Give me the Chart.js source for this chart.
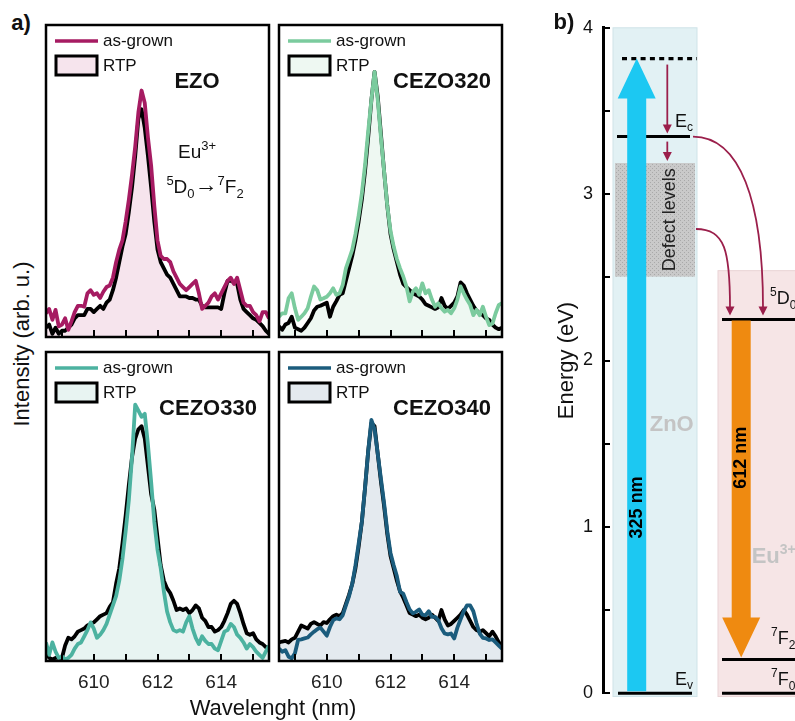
<!DOCTYPE html>
<html>
<head>
<meta charset="utf-8">
<script src="https://cdn.jsdelivr.net/npm/chart.js@4.4.0/dist/chart.umd.min.js"></script>
<style>
  body { margin: 0; background: #fff; }
  #fig { position: relative; width: 795px; height: 721px; overflow: hidden; font-family: Arial, "Liberation Sans", sans-serif; color: #111; }
  #fig canvas { position: absolute; }
  .txt { position: absolute; white-space: nowrap; transform: translate(-50%, -50%); }
</style>
</head>
<body>
<div id="fig">
  <canvas id="pEZO"></canvas>
  <canvas id="pC320"></canvas>
  <canvas id="pC330"></canvas>
  <canvas id="pC340"></canvas>
  <canvas id="diagram" width="255" height="721" style="left:540px;top:0"></canvas>
  <div class="txt" style="left:21px;top:23px;font-size:22px;font-weight:bold">a)</div>
  <div class="txt" style="left:564px;top:22px;font-size:22px;font-weight:bold">b)</div>
  <div class="txt" style="left:22px;top:344px;font-size:22px;transform:translate(-50%,-50%) rotate(-90deg)">Intensity (arb. u.)</div>
  <div class="txt" style="left:273px;top:708px;font-size:22px">Wavelenght (nm)</div>
</div>
<script>
const FONT = 'Arial, "Liberation Sans", sans-serif';

// ---- panel a: spectra (0 = frame bottom, 100 = frame top)
const wavelengths = [608.5, 608.6, 608.7, 608.8, 608.9, 609.0, 609.1, 609.2, 609.3, 609.4, 609.5, 609.6, 609.7, 609.8, 609.9,
  610.0, 610.1, 610.2, 610.3, 610.4, 610.5, 610.6, 610.7, 610.8, 610.9,
  611.0, 611.1, 611.2, 611.3, 611.4, 611.5, 611.6, 611.7, 611.8, 611.9,
  612.0, 612.1, 612.2, 612.3, 612.4, 612.5, 612.6, 612.7, 612.8, 612.9,
  613.0, 613.1, 613.2, 613.3, 613.4, 613.5, 613.6, 613.7, 613.8, 613.9,
  614.0, 614.1, 614.2, 614.3, 614.4, 614.5, 614.6, 614.7, 614.8, 614.9,
  615.0, 615.1, 615.2, 615.3, 615.4, 615.5];
const xTickValues = [609, 610, 611, 612, 613, 614, 615];
const xTickLabels = [610, 612, 614];
const samples = ['EZO', 'CEZO320', 'CEZO330', 'CEZO340'];

const ezoAsGrown = [7.6, 9, 5.5, 8.7, 3.4, 4, 6, 2.3, 5, 8, 10, 10, 9.7, 14, 15,
  13.5, 14, 12.5, 14.5, 16, 16.5, 19, 24, 28, 31,
  37, 44, 52, 61, 72, 79, 75, 64, 55, 42,
  31, 26, 25, 25, 24, 21, 19, 17, 16, 15,
  16, 17, 18, 14, 9, 10, 11, 13, 14, 12,
  14, 16, 18, 19, 17, 19, 15, 11, 10, 10,
  8, 7, 5, 8, 8, 6];
const ezoRtp = [3, 4, 1, 3, 1, 2, 2, 3, 4, 6, 7, 7, 7, 9, 9,
  8, 9, 10, 9, 11, 12, 15, 19, 24, 29,
  33, 40, 48, 58, 70, 73, 67, 58, 48, 37,
  28, 24, 22, 20, 19, 17, 15, 13, 13, 13,
  12.5, 12.5, 12, 12, 10, 9.5, 9.5, 9.5, 9.5, 9.5,
  9, 14, 18, 18, 17.5, 17, 12, 9, 8, 7,
  6, 5.5, 4.5, 3.5, 2, 1];

const c320AsGrown = [6.5, 7.6, 7.6, 12.4, 14, 9.2, 5.5, 6.5, 7.6, 9.2, 12.9, 16.2, 15, 12, 12.4,
  12.9, 14, 15.6, 13.5, 14, 16.7, 22, 25, 28, 33,
  39, 46, 55, 66, 76, 85, 76, 64, 53, 42,
  34, 29, 25, 22, 19.4, 16.2, 11.4, 14.5, 15.6, 13.5,
  17.2, 14, 15, 12, 9.7, 10.8, 9.2, 8.1, 8.7, 7.6,
  9.2, 12, 16.2, 14, 12, 10.3, 7, 8.7, 7, 9.7,
  6.5, 3.8, 4.3, 7.6, 10.3, 10.8];
const c320Rtp = [3.4, 2.3, 4, 4.5, 6.5, 3, 2.5, 2, 3, 4.5, 6, 8.5, 9.7, 10, 10.5,
  11, 6.5, 9.7, 11.5, 13.5, 14, 18, 22, 26, 31,
  37, 44, 53, 64, 76, 85, 77, 65, 53, 42,
  33, 28, 24, 20, 17, 16, 15, 14, 13.5, 13,
  12, 10.5, 10, 9.5, 9, 9.5, 12.5, 10, 9, 10,
  11, 13, 17.5, 16.5, 14, 12, 10, 8.5, 7.5, 7,
  6, 5.5, 4, 3, 2.5, 3];

const c330AsGrown = [6, 2, 6, 3, 1, 1.5, 0.5, 1, 2, 4, 5.5, 6, 8, 10, 12.5,
  10.5, 7.5, 8.5, 10, 12, 15, 18, 21, 26, 33,
  42, 52, 66, 83, 81, 79, 80, 70, 58, 45,
  36, 30, 22.5, 16, 12.5, 10, 9.5, 10, 9.5, 12.5,
  14.5, 10.5, 7.5, 5.5, 8, 6.5, 5.5, 5.5, 4, 3.5,
  6.5, 9.5, 10, 12, 11, 8.5, 7.5, 6, 4, 5.5,
  4.5, 3, 2, 1, 3, 5];
const c330Rtp = [3, 1, 0.5, 1, 1, 1, 5, 7.5, 7, 8, 9.5, 10, 10.5, 11.5, 12,
  12.5, 13.5, 14.5, 15, 15.5, 17.5, 19, 25, 30, 38,
  47, 57, 66, 72, 75, 76, 72, 63, 54, 49,
  40, 31, 26, 23.5, 22, 19.5, 16.5, 17, 16.5, 17,
  15.5, 16.5, 18, 17, 14, 13, 11, 11, 9.5, 10,
  11, 13, 15.5, 18.5, 19.5, 18.5, 15.5, 12, 9, 8.5,
  9, 7, 6, 5.5, 4.5, 4];

const c340AsGrown = [4, 3, 3.5, 1.4, 0.9, 2.5, 6.8, 7, 7.3, 7.6, 8.6, 9.5, 10.3, 10.8, 9.5,
  8.2, 11, 13.2, 13.8, 13.5, 14.8, 18, 21, 25, 31,
  38, 45, 56, 68, 78, 75, 67, 59, 51, 42,
  35, 31, 27.5, 22.4, 21.8, 19.1, 16.7, 15.4, 15.9, 16.7,
  15, 14.8, 16.1, 14.3, 14.3, 13.2, 10.6, 8.9, 8.6, 8.9,
  7.3, 10.8, 13.5, 16.1, 18, 18, 16.1, 12.2, 8.9, 7.5,
  7.3, 6.8, 7, 6, 5, 4];
const c340Rtp = [6, 6.3, 6.5, 6, 7, 7.5, 9.5, 11.5, 11, 10.5, 12, 12.6, 12, 11.5, 12.6,
  12.3, 13.5, 14.5, 15, 14.5, 15.5, 18.5, 21.5, 25, 30,
  37, 45, 56, 68, 77, 76, 67, 58, 50, 41,
  34, 30, 26, 22.5, 20.5, 18, 15.5, 15, 14.5, 15,
  14, 13.5, 14, 15, 14, 13, 16.5, 13.5, 11.5, 12,
  13, 14, 15, 16.5, 15, 13, 11, 10, 9.5, 10,
  9, 8, 9.5, 8, 6, 5];

// ---- panel b: energy levels (eV)
const energyTicks = [0, 0.5, 1, 1.5, 2, 2.5, 3, 3.5, 4];
const energyLabels = [0, 1, 2, 3, 4];
const levelNames = ['excitation', 'Ec', 'Ev', '5D0', '7F2', '7F0'];
const levelEnergies = [3.815, 3.346, 0, 2.247, 0.202, 0];
const defectBand = [2.504, 3.187];
const euBoxTop = 2.54;
const excitationNm = 325;
const emissionNm = 612;

const lv = name => levelEnergies[levelNames.indexOf(name)];

// frames of the four spectrum panels (page px) and their look
const panels = [
  { id: 'pEZO',  l: 46,  t: 25,  w: 223, h: 312, color: '#a61b62', fill: '#f6e4ed', nameX: 151, labels: false, transition: true },
  { id: 'pC320', l: 279, t: 25,  w: 223, h: 312, color: '#7bcb9e', fill: '#eef8f2', nameX: 163, labels: false },
  { id: 'pC330', l: 46,  t: 352, w: 223, h: 309, color: '#4cb2a0', fill: '#e8f4f2', nameX: 162, labels: true },
  { id: 'pC340', l: 279, t: 352, w: 223, h: 309, color: '#1b5c7d', fill: '#e4eaef', nameX: 163, labels: true }
];
const spectra = [[ezoAsGrown, ezoRtp], [c320AsGrown, c320Rtp], [c330AsGrown, c330Rtp], [c340AsGrown, c340Rtp]];

// text with super/subscripts: parts = [text, size, dy, bold]
function richText(ctx, x, y, parts, align) {
  const fontOf = p => `${p[3] ? 'bold ' : ''}${p[1]}px ${FONT}`;
  let w = 0;
  parts.forEach(p => { ctx.font = fontOf(p); w += ctx.measureText(p[0]).width; });
  let cx = align === 'center' ? x - w / 2 : x;
  ctx.textAlign = 'left';
  parts.forEach(p => {
    ctx.font = fontOf(p);
    ctx.fillText(p[0], cx, y + (p[2] || 0));
    cx += ctx.measureText(p[0]).width;
  });
}

const panelDecor = {
  id: 'panelDecor',
  afterDraw(chart, args, o) {
    const { ctx, chartArea: a } = chart;
    const xs = chart.scales.x;
    ctx.save();
    ctx.strokeStyle = '#000';
    ctx.lineWidth = 2.5;
    ctx.strokeRect(a.left, a.top, a.right - a.left, a.bottom - a.top);

    // inward tick marks on the wavelength axis
    ctx.lineWidth = 2;
    xTickValues.forEach(v => {
      const X = Math.round(xs.getPixelForValue(v));
      ctx.beginPath();
      ctx.moveTo(X, a.bottom);
      ctx.lineTo(X, a.bottom - 7);
      ctx.stroke();
    });

    // legend
    ctx.lineWidth = 3.5;
    ctx.strokeStyle = o.color;
    ctx.beginPath();
    ctx.moveTo(a.left + 9, a.top + 16);
    ctx.lineTo(a.left + 52, a.top + 16);
    ctx.stroke();
    ctx.fillStyle = o.fill;
    ctx.fillRect(a.left + 10, a.top + 31, 41, 19);
    ctx.strokeStyle = '#000';
    ctx.lineWidth = 3;
    ctx.strokeRect(a.left + 10, a.top + 31, 41, 19);
    ctx.fillStyle = '#111';
    ctx.font = `17px ${FONT}`;
    ctx.textBaseline = 'middle';
    ctx.fillText('as-grown', a.left + 57, a.top + 16);
    ctx.fillText('RTP', a.left + 57, a.top + 41);

    ctx.font = `bold 22px ${FONT}`;
    ctx.textAlign = 'center';
    ctx.fillText(o.name, a.left + o.nameX, a.top + 57);

    if (o.transition) {
      ctx.textBaseline = 'alphabetic';
      richText(ctx, a.left + 151, a.top + 133, [['Eu', 19], ['3+', 13, -8]], 'center');
      richText(ctx, a.left + 159, a.top + 168, [['5', 13, -8], ['D', 19], ['0', 13, 5], ['\u2192', 23, -1], ['7', 13, -8], ['F', 19], ['2', 13, 5]], 'center');
    }
    ctx.restore();
  }
};

function spectrumChart(p, series, name) {
  const axisH = p.labels ? 30 : 10;
  const cv = document.getElementById(p.id);
  cv.width = p.w + 8;
  cv.height = p.h + 8 + axisH;
  cv.style.left = (p.l - 4) + 'px';
  cv.style.top = (p.t - 4) + 'px';
  const pts = vals => wavelengths.map((x, i) => ({ x: x, y: vals[i] }));
  return new Chart(cv, {
    type: 'line',
    data: {
      datasets: [
        { label: 'as-grown', data: pts(series[0]), borderColor: p.color, borderWidth: 3.8, pointRadius: 0, tension: 0, fill: false, borderJoinStyle: 'round' },
        { label: 'RTP', data: pts(series[1]), borderColor: '#000', borderWidth: 3.8, pointRadius: 0, tension: 0, fill: 'origin', backgroundColor: p.fill, borderJoinStyle: 'round' }
      ]
    },
    options: {
      responsive: false,
      animation: false,
      events: [],
      layout: { padding: 4 },
      plugins: {
        legend: { display: false },
        tooltip: { enabled: false },
        panelDecor: { color: p.color, fill: p.fill, name: name, nameX: p.nameX, transition: !!p.transition }
      },
      scales: {
        x: {
          type: 'linear', min: 608.5, max: 615.5,
          afterFit: s => { s.height = axisH; },
          afterBuildTicks: s => { s.ticks = xTickValues.map(v => ({ value: v })); },
          ticks: {
            display: p.labels, autoSkip: false, maxRotation: 0, padding: 17,
            callback: v => xTickLabels.includes(v) ? String(v) : '',
            font: { size: 19, family: FONT }, color: '#222'
          },
          grid: { drawOnChartArea: false, drawTicks: true, tickLength: -7, color: 'rgba(0,0,0,0)' },
          border: { display: false }
        },
        y: { display: false, min: 0, max: 100 }
      }
    },
    plugins: [panelDecor]
  });
}

panels.forEach((p, i) => spectrumChart(p, spectra[i], samples[i]));

// ---- panel b: energy diagram
// horizontal layout of the diagram, in px right of the energy axis
const diag = {
  znoCol: [10, 94], euCol: [115, 200], boxBottom: -0.02,
  defectCol: [12, 92],
  spans: { excitation: [19, 94], Ec: [14, 87], Ev: [15, 89], '5D0': [119, 200], '7F2': [119, 200], '7F0': [119, 200] },
  blueX: 33.7, orangeX: 138.2, shaft: 19, head: 38, headLen: 40,
  relaxX: 64.3
};

function stipple() {
  const c = document.createElement('canvas');
  c.width = 4; c.height = 4;
  const g = c.getContext('2d');
  g.fillStyle = '#c9c9c9';
  g.fillRect(0, 0, 4, 4);
  g.fillStyle = '#a9a9a9';
  g.fillRect(0, 0, 1, 1);
  g.fillRect(2, 2, 1, 1);
  return c;
}

function arrowHead(ctx, x, y, dx, dy, len, half) {
  const n = Math.hypot(dx, dy), ux = dx / n, uy = dy / n;
  ctx.beginPath();
  ctx.moveTo(x, y);
  ctx.lineTo(x - ux * len - uy * half, y - uy * len + ux * half);
  ctx.lineTo(x - ux * len + uy * half, y - uy * len - ux * half);
  ctx.closePath();
  ctx.fill();
}

function bigArrow(ctx, cx, yStart, yTip, shaft, head, headLen, color) {
  const dir = yTip < yStart ? -1 : 1;
  const yBase = yTip - dir * headLen;
  ctx.fillStyle = color;
  ctx.beginPath();
  ctx.moveTo(cx - shaft / 2, yStart);
  ctx.lineTo(cx - shaft / 2, yBase);
  ctx.lineTo(cx - head / 2, yBase);
  ctx.lineTo(cx, yTip);
  ctx.lineTo(cx + head / 2, yBase);
  ctx.lineTo(cx + shaft / 2, yBase);
  ctx.lineTo(cx + shaft / 2, yStart);
  ctx.closePath();
  ctx.fill();
}

function rotatedText(ctx, text, x, y, font, color) {
  ctx.save();
  ctx.translate(x, y);
  ctx.rotate(-Math.PI / 2);
  ctx.font = font;
  ctx.fillStyle = color;
  ctx.textAlign = 'center';
  ctx.textBaseline = 'middle';
  ctx.fillText(text, 0, 0);
  ctx.restore();
}

const diagramPlugin = {
  id: 'diagramPlugin',
  beforeDatasetsDraw(chart) {
    const { ctx, scales: { x, y } } = chart;
    const px = u => x.getPixelForValue(u), py = e => y.getPixelForValue(e);
    ctx.save();
    ctx.lineWidth = 1;
    // ZnO column
    ctx.fillStyle = '#e2f1f4';
    ctx.strokeStyle = '#cfe3e8';
    ctx.fillRect(px(diag.znoCol[0]), py(4), px(diag.znoCol[1]) - px(diag.znoCol[0]), py(diag.boxBottom) - py(4));
    ctx.strokeRect(px(diag.znoCol[0]), py(4), px(diag.znoCol[1]) - px(diag.znoCol[0]), py(diag.boxBottom) - py(4));
    // Eu column
    ctx.fillStyle = '#f6e5e6';
    ctx.strokeStyle = '#ead4d6';
    ctx.fillRect(px(diag.euCol[0]), py(euBoxTop), px(diag.euCol[1]) - px(diag.euCol[0]), py(diag.boxBottom) - py(euBoxTop));
    ctx.strokeRect(px(diag.euCol[0]), py(euBoxTop), px(diag.euCol[1]) - px(diag.euCol[0]), py(diag.boxBottom) - py(euBoxTop));
    // defect band
    ctx.fillStyle = ctx.createPattern(stipple(), 'repeat');
    ctx.fillRect(px(diag.defectCol[0]), py(defectBand[1]), px(diag.defectCol[1]) - px(diag.defectCol[0]), py(defectBand[0]) - py(defectBand[1]));
    ctx.restore();
  },
  afterDatasetsDraw(chart) {
    const { ctx, scales: { x, y } } = chart;
    const px = u => x.getPixelForValue(u), py = e => y.getPixelForValue(e);
    ctx.save();

    // excitation (325 nm) and emission (612 nm)
    bigArrow(ctx, px(diag.blueX), py(lv('Ev')) - 2, py(lv('excitation')), diag.shaft, diag.head, diag.headLen, '#1cc8f2');
    bigArrow(ctx, px(diag.orangeX), py(lv('5D0')) + 1, py(lv('7F2')) - 2, diag.shaft, diag.head, diag.headLen, '#ef8a10');

    // relaxation / transfer arrows
    const red = '#9b1f4b';
    ctx.strokeStyle = red;
    ctx.fillStyle = red;
    ctx.lineWidth = 1.8;
    const rx = px(diag.relaxX);
    ctx.beginPath();
    ctx.moveTo(rx, py(lv('excitation')) + 6);
    ctx.lineTo(rx, py(lv('Ec')) - 10);
    ctx.stroke();
    arrowHead(ctx, rx, py(lv('Ec')) - 3, 0, 1, 9, 4.5);
    ctx.beginPath();
    ctx.moveTo(rx, py(lv('Ec')) + 5);
    ctx.lineTo(rx, py(defectBand[1]) - 9);
    ctx.stroke();
    arrowHead(ctx, rx, py(defectBand[1]) - 2, 0, 1, 9, 4.5);

    const endY = py(lv('5D0')) - 4;
    ctx.beginPath();
    ctx.moveTo(px(diag.spans.Ec[1]) + 3, py(lv('Ec')));
    ctx.bezierCurveTo(px(137), py(lv('Ec')), px(160), py(2.96), px(160), endY - 8);
    ctx.stroke();
    arrowHead(ctx, px(160), endY, 0, 1, 9, 4.5);

    const dMid = (defectBand[0] + defectBand[1]) / 2 - 0.055;
    ctx.beginPath();
    ctx.moveTo(px(diag.defectCol[1]) + 1, py(dMid));
    ctx.bezierCurveTo(px(122), py(dMid), px(127), py(2.66), px(127), endY - 8);
    ctx.stroke();
    arrowHead(ctx, px(127), endY, 0, 1, 9, 4.5);

    // level labels
    ctx.fillStyle = '#111';
    ctx.textBaseline = 'alphabetic';
    richText(ctx, px(72), py(lv('Ec')) - 10, [['E', 18], ['c', 12, 4]]);
    richText(ctx, px(72), py(lv('Ev')) - 8, [['E', 18], ['v', 12, 4]]);
    richText(ctx, px(167), py(lv('5D0')) - 15, [['5', 12, -8], ['D', 18], ['0', 12, 5]]);
    richText(ctx, px(168), py(lv('7F2')) - 16, [['7', 12, -8], ['F', 18], ['2', 12, 5]]);
    richText(ctx, px(168), py(lv('7F0')) - 8, [['7', 12, -8], ['F', 18], ['0', 12, 5]]);

    // column names
    ctx.fillStyle = '#c4c4c4';
    ctx.font = `bold 22px ${FONT}`;
    ctx.textAlign = 'center';
    ctx.textBaseline = 'middle';
    ctx.fillText('ZnO', px(68.7), py(1.61));
    ctx.textBaseline = 'alphabetic';
    richText(ctx, px(148.7), py(0.832) + 8, [['Eu', 22, 0, true], ['3+', 14, -9, true]]);

    rotatedText(ctx, 'Defect levels', px(67), py((defectBand[0] + defectBand[1]) / 2), `18px ${FONT}`, '#222');
    rotatedText(ctx, excitationNm + ' nm', px(diag.blueX), py(1.117), `bold 18px ${FONT}`, '#000');
    rotatedText(ctx, emissionNm + ' nm', px(diag.orangeX), py(1.415), `bold 18px ${FONT}`, '#000');
    ctx.restore();
  }
};

new Chart(document.getElementById('diagram'), {
  type: 'line',
  data: {
    datasets: levelNames.map((n, i) => ({
      label: n,
      data: [{ x: diag.spans[n][0], y: levelEnergies[i] }, { x: diag.spans[n][1], y: levelEnergies[i] }],
      borderColor: '#000',
      borderWidth: n === 'excitation' ? 3.3 : 3,
      borderDash: n === 'excitation' ? [5, 4.3] : [],
      pointRadius: 0,
      clip: false
    }))
  },
  options: {
    responsive: false,
    animation: false,
    events: [],
    layout: { padding: { left: 0, right: 0, top: 25, bottom: 23 } },
    plugins: { legend: { display: false }, tooltip: { enabled: false } },
    scales: {
      x: { type: 'linear', display: false, min: 0, max: 192 },
      y: {
        type: 'linear', position: 'left', min: 0, max: 4,
        afterFit: s => { s.width = 63; },
        afterBuildTicks: s => { s.ticks = energyTicks.map(v => ({ value: v })); },
        ticks: {
          padding: 17,
          callback: v => energyLabels.includes(v) ? String(v) : '',
          font: { size: 18, family: FONT }, color: '#111'
        },
        grid: { drawOnChartArea: false, drawTicks: true, tickLength: -7, lineWidth: 2, color: '#000' },
        border: { display: true, width: 3, color: '#000' },
        title: { display: true, text: 'Energy (eV)', font: { size: 22, family: FONT }, color: '#111', padding: { top: 14, bottom: 0 } }
      }
    }
  },
  plugins: [diagramPlugin]
});
</script>
</body>
</html>
